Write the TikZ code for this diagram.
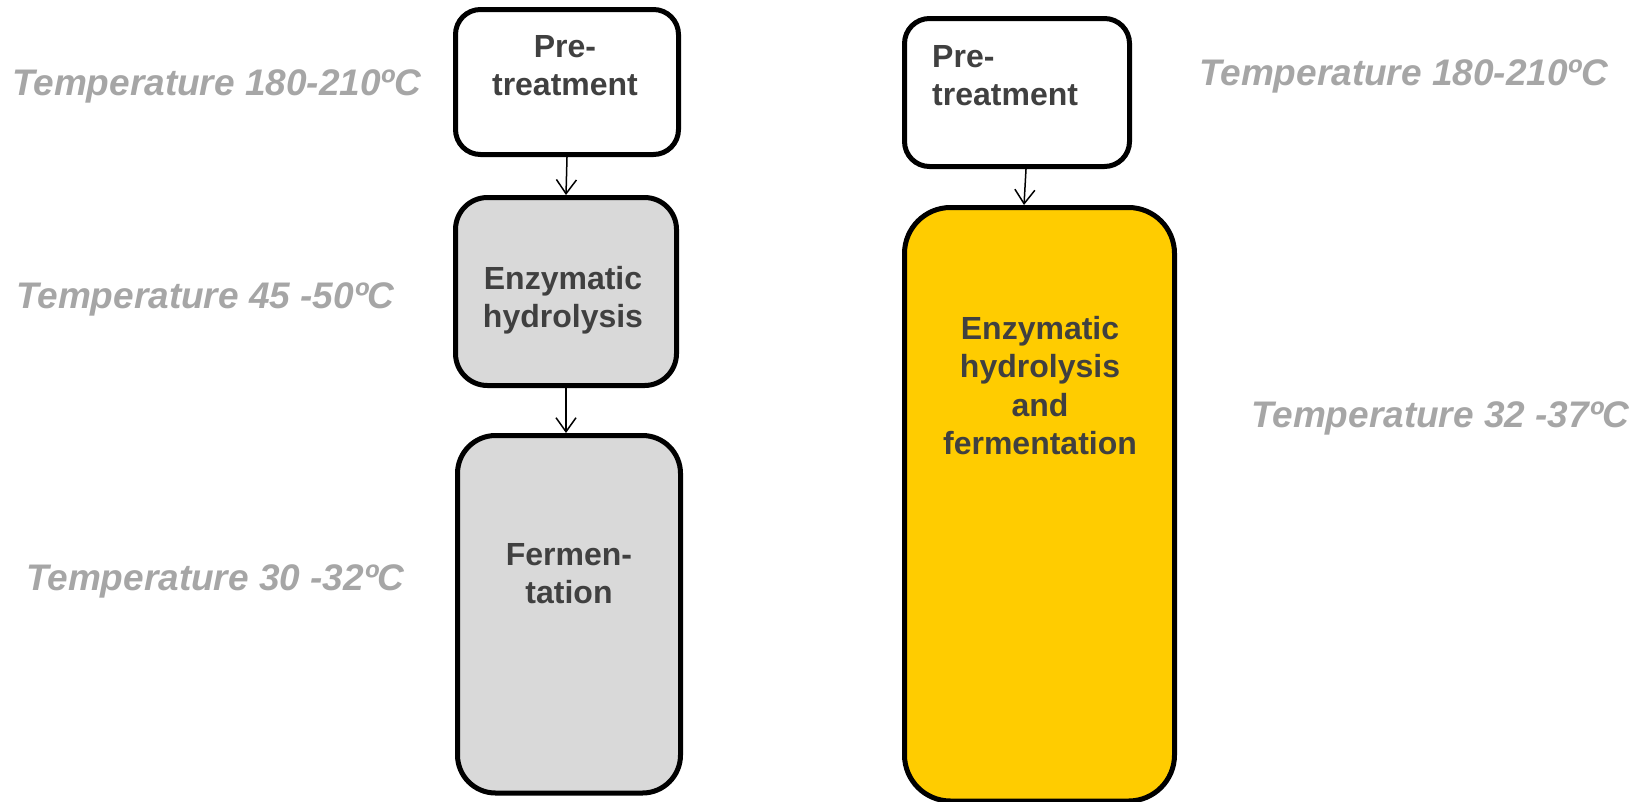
\documentclass[tikz,border=0pt]{standalone}
\usepackage{fontspec}
\setmainfont{Liberation Sans}
\usetikzlibrary{arrows.meta}
\definecolor{boxtext}{HTML}{404040}
\definecolor{labgray}{HTML}{A6A6A6}
\definecolor{fillgray}{HTML}{D9D9D9}
\definecolor{fillyellow}{HTML}{FFCC00}
\begin{document}
\begin{tikzpicture}[x=1pt,y=-1pt,
  stepbox/.style={draw=black, line width=5pt, inner sep=0pt, outer sep=2.5pt},
  boxlabel/.style={text=boxtext, font=\fontsize{32}{38}\selectfont\bfseries, inner sep=0pt, anchor=base},
  templabel/.style={text=labgray, font=\fontsize{37}{40}\selectfont\bfseries\itshape, inner sep=0pt, anchor=base west},
  flow/.style={draw=black, line width=1.5pt, -{Straight Barb[length=14pt,width=20pt]}}]
\useasboundingbox (0,0) rectangle (1637,801);
% left column
\node[stepbox, fill=white, rounded corners=25pt, minimum width=223pt, minimum height=145pt] (LP) at (567,82) {};
\node[stepbox, fill=fillgray, rounded corners=32pt, minimum width=221pt, minimum height=188pt] (LE) at (566,291.5) {};
\node[stepbox, fill=fillgray, rounded corners=38pt, minimum width=223pt, minimum height=357.5pt] (LF) at (569,614.25) {};
\node[boxlabel] (LPa) at (565,57) {Pre-};
\node[boxlabel] (LPb) at (565,95) {treatment};
\node[boxlabel] (LEa) at (563,289) {Enzymatic};
\node[boxlabel] (LEb) at (563,327) {hydrolysis};
\node[boxlabel] (LFa) at (569,565) {Fermen-};
\node[boxlabel] (LFb) at (569,603) {tation};
\draw[flow] (LP.south) -- (LE.north);
\draw[flow] (LE.south) -- (LE.south |- LF.north);
% right column
\node[stepbox, fill=white, rounded corners=25pt, minimum width=225pt, minimum height=148pt] (RP) at (1017,92.5) {};
\node[stepbox, fill=fillyellow, rounded corners=46pt, minimum width=270pt, minimum height=593.5pt] (RY) at (1039.5,504.25) {};
\node[boxlabel, anchor=base west] (RPa) at (932,67) {Pre-};
\node[boxlabel, anchor=base west] (RPb) at (932,105) {treatment};
\node[boxlabel] (RYa) at (1040,339) {Enzymatic};
\node[boxlabel] (RYb) at (1040,377) {hydrolysis};
\node[boxlabel] (RYc) at (1040,416) {and};
\node[boxlabel] (RYd) at (1040,454) {fermentation};
\draw[flow] ([xshift=9pt]RP.south) -- ([xshift=7pt]RP.south |- RY.north);
% temperature labels
\node[templabel] (T1) at (12,95) {Temperature 180-210ºC};
\node[templabel] (T2) at (16,308) {Temperature 45 -50ºC};
\node[templabel] (T3) at (26,590) {Temperature 30 -32ºC};
\node[templabel] (T4) at (1199,85) {Temperature 180-210ºC};
\node[templabel] (T5) at (1251,427) {Temperature 32 -37ºC};
\end{tikzpicture}
\end{document}
